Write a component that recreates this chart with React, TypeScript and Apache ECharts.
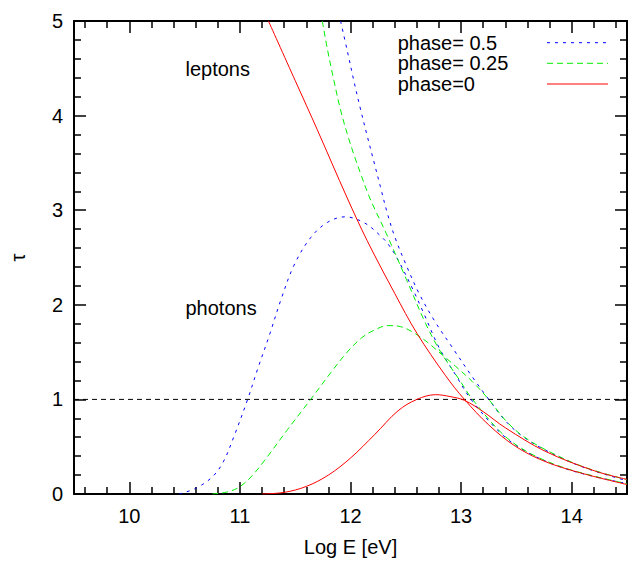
import React, { useEffect, useRef } from "react";
import * as echarts from "echarts";

const FONT = '"Liberation Sans", Arial, Helvetica, sans-serif';

// axis ranges
const xRange: [number, number] = [9.5, 14.5];
const yRange: [number, number] = [0, 5];
const yInterval = 1;
const thresholdTau = 1;

// legend / phase info
const phaseLabels = ["phase= 0.5", "phase= 0.25", "phase=0"];
const phaseColors = ["#0000ff", "#00ee00", "#ff0000"];
const phaseDashes: (number[] | "solid")[] = [[3, 5], [6, 4], "solid"];

// annotation texts
const annotations = ["leptons", "photons"];

// photon optical depth curves [log E, tau]
const photons05: [number, number][] = [
  [10.45, 0], [10.6, 0.06], [10.75, 0.18], [10.85, 0.34], [10.95, 0.62], [11.07, 1.0],
  [11.16, 1.32], [11.27, 1.69], [11.37, 2.05], [11.49, 2.42], [11.64, 2.71], [11.79, 2.87],
  [11.95, 2.93], [12.12, 2.87], [12.27, 2.73], [12.36, 2.61], [12.45, 2.43], [12.565, 2.16],
  [12.655, 1.93], [12.8, 1.55], [12.95, 1.26], [13.09, 1.0], [13.37, 0.63], [13.6, 0.44],
  [13.9, 0.285], [14.2, 0.185], [14.5, 0.11],
];
const photons025: [number, number][] = [
  [10.75, 0], [10.88, 0.02], [10.99, 0.07], [11.1, 0.18], [11.22, 0.35], [11.43, 0.68],
  [11.64, 1.0], [11.82, 1.28], [11.97, 1.5], [12.1, 1.65], [12.21, 1.73], [12.34, 1.78],
  [12.45, 1.77], [12.565, 1.71], [12.7, 1.6], [12.8, 1.5], [12.95, 1.35], [13.1, 1.19],
  [13.25, 1.0], [13.4, 0.78], [13.55, 0.62], [13.76, 0.47], [14.1, 0.29], [14.5, 0.15],
];
const photons0: [number, number][] = [
  [11.2, 0], [11.4, 0.017], [11.6, 0.08], [11.8, 0.2], [12.0, 0.38], [12.22, 0.63],
  [12.43, 0.88], [12.6, 1.0], [12.77, 1.05], [12.9, 1.03], [13.03, 0.99], [13.2, 0.87],
  [13.4, 0.7], [13.76, 0.452], [14.21, 0.243], [14.5, 0.155],
];

// lepton optical depth curves [log E, tau]
const leptons05: [number, number][] = [
  [11.91, 5.0], [11.97, 4.69], [12.03, 4.37], [12.09, 4.07], [12.15, 3.79], [12.21, 3.52],
  [12.27, 3.25], [12.33, 2.98], [12.4, 2.72], [12.5, 2.43], [12.62, 2.12], [12.76, 1.83],
  [12.92, 1.55], [13.1, 1.24], [13.25, 1.0], [13.4, 0.775], [13.55, 0.615], [13.76, 0.465],
  [14.1, 0.285], [14.5, 0.14],
];
const leptons025: [number, number][] = [
  [11.745, 5.0], [11.79, 4.71], [11.85, 4.37], [11.91, 4.06], [11.97, 3.81], [12.03, 3.59],
  [12.1, 3.36], [12.16, 3.17], [12.22, 3.01], [12.325, 2.75], [12.505, 2.27], [12.68, 1.8],
  [12.8, 1.53], [12.86, 1.42], [13.0, 1.18], [13.09, 1.02], [13.37, 0.64], [13.6, 0.445],
  [13.9, 0.29], [14.2, 0.19], [14.5, 0.108],
];
const leptons0: [number, number][] = [
  [11.258, 5.0], [11.5, 4.37], [11.7, 3.85], [11.97, 3.13], [12.15, 2.68], [12.4, 2.12],
  [12.6, 1.7], [12.86, 1.25], [13.03, 1.0], [13.25, 0.73], [13.49, 0.505], [13.75, 0.348],
  [14.07, 0.226], [14.5, 0.1],
];

const thresholdLine: [number, number][] = [
  [xRange[0], thresholdTau],
  [xRange[1], thresholdTau],
];

function lineSeries(name: string, idx: number, data: [number, number][]) {
  return {
    type: "line",
    name,
    data,
    symbol: "none",
    showSymbol: false,
    smooth: 0.35,
    clip: true,
    lineStyle: { color: phaseColors[idx], width: 1, type: phaseDashes[idx] },
    itemStyle: { color: phaseColors[idx] },
    z: 3 + idx,
  };
}

const axisCommon = {
  type: "value",
  axisLine: { show: true, onZero: false, lineStyle: { color: "#000", width: 2 } },
  axisTick: { show: true, inside: true, length: 12, lineStyle: { color: "#000", width: 1.5 } },
  minorTick: { show: true, splitNumber: 5, length: 7, lineStyle: { color: "#000", width: 1.5 } },
  splitLine: { show: false },
  minorSplitLine: { show: false },
};

const intLabel = (v: number) => (Math.abs(v - Math.round(v)) < 1e-9 ? String(Math.round(v)) : "");

function buildOption() {
  const legendTop = [42.7, 63.3, 84];
  const legendGraphics: any[] = [];
  phaseLabels.forEach((label, i) => {
    legendGraphics.push({
      type: "text",
      x: 397.7,
      y: legendTop[i],
      style: {
        text: label,
        fill: "#000",
        font: `20px ${FONT}`,
        align: "left",
        verticalAlign: "middle",
      },
      z: 10,
    });
    legendGraphics.push({
      type: "line",
      shape: { x1: 547, y1: legendTop[i], x2: 608, y2: legendTop[i] },
      style: {
        stroke: phaseColors[i],
        lineWidth: 1,
        lineDash: phaseDashes[i] === "solid" ? null : phaseDashes[i],
      },
      z: 10,
    });
  });

  return {
    animation: false,
    backgroundColor: "#fff",
    textStyle: { fontFamily: FONT },
    grid: { left: 74, top: 21, width: 558, height: 479, containLabel: false },
    xAxis: [
      {
        ...axisCommon,
        position: "bottom",
        min: xRange[0],
        max: xRange[1],
        axisLabel: { show: true, fontSize: 20, color: "#000", fontFamily: FONT, margin: 12, formatter: intLabel },
        name: "Log E [eV]",
        nameLocation: "middle",
        nameGap: 43,
        nameTextStyle: { fontSize: 20, color: "#000", fontFamily: FONT },
      },
      {
        ...axisCommon,
        position: "top",
        min: xRange[0],
        max: xRange[1],
        axisLabel: { show: false },
      },
    ],
    yAxis: [
      {
        ...axisCommon,
        position: "left",
        min: yRange[0],
        max: yRange[1],
        interval: yInterval,
        axisLabel: { show: true, fontSize: 20, color: "#000", fontFamily: FONT, margin: 11 },
        name: "τ",
        nameLocation: "middle",
        nameGap: 46,
        nameRotate: 90,
        nameTextStyle: { fontSize: 20, color: "#000", fontFamily: FONT },
      },
      {
        ...axisCommon,
        position: "right",
        min: yRange[0],
        max: yRange[1],
        interval: yInterval,
        axisLabel: { show: false },
      },
    ],
    series: [
      {
        type: "line",
        name: "threshold",
        data: thresholdLine,
        symbol: "none",
        lineStyle: { color: "#000", width: 1, type: [5, 4] },
        z: 2,
      },
      lineSeries(phaseLabels[0], 0, photons05),
      lineSeries(phaseLabels[0], 0, leptons05),
      lineSeries(phaseLabels[1], 1, photons025),
      lineSeries(phaseLabels[1], 1, leptons025),
      lineSeries(phaseLabels[2], 2, photons0),
      lineSeries(phaseLabels[2], 2, leptons0),
    ],
    graphic: [
      {
        type: "text",
        x: 185.5,
        y: 68.8,
        style: { text: annotations[0], fill: "#000", font: `20px ${FONT}`, align: "left", verticalAlign: "middle" },
        z: 10,
      },
      {
        type: "text",
        x: 185.5,
        y: 308,
        style: { text: annotations[1], fill: "#000", font: `20px ${FONT}`, align: "left", verticalAlign: "middle" },
        z: 10,
      },
      ...legendGraphics,
    ],
  };
}

export default function App() {
  const ref = useRef<HTMLDivElement>(null);
  useEffect(() => {
    if (!ref.current) return;
    const chart = echarts.init(ref.current, null, { renderer: "svg" });
    chart.setOption(buildOption() as any);
    return () => chart.dispose();
  }, []);
  return (
    <div
      ref={ref}
      style={{ position: "absolute", left: 0, top: 0, width: 630, height: 562, background: "#fff" }}
    />
  );
}
